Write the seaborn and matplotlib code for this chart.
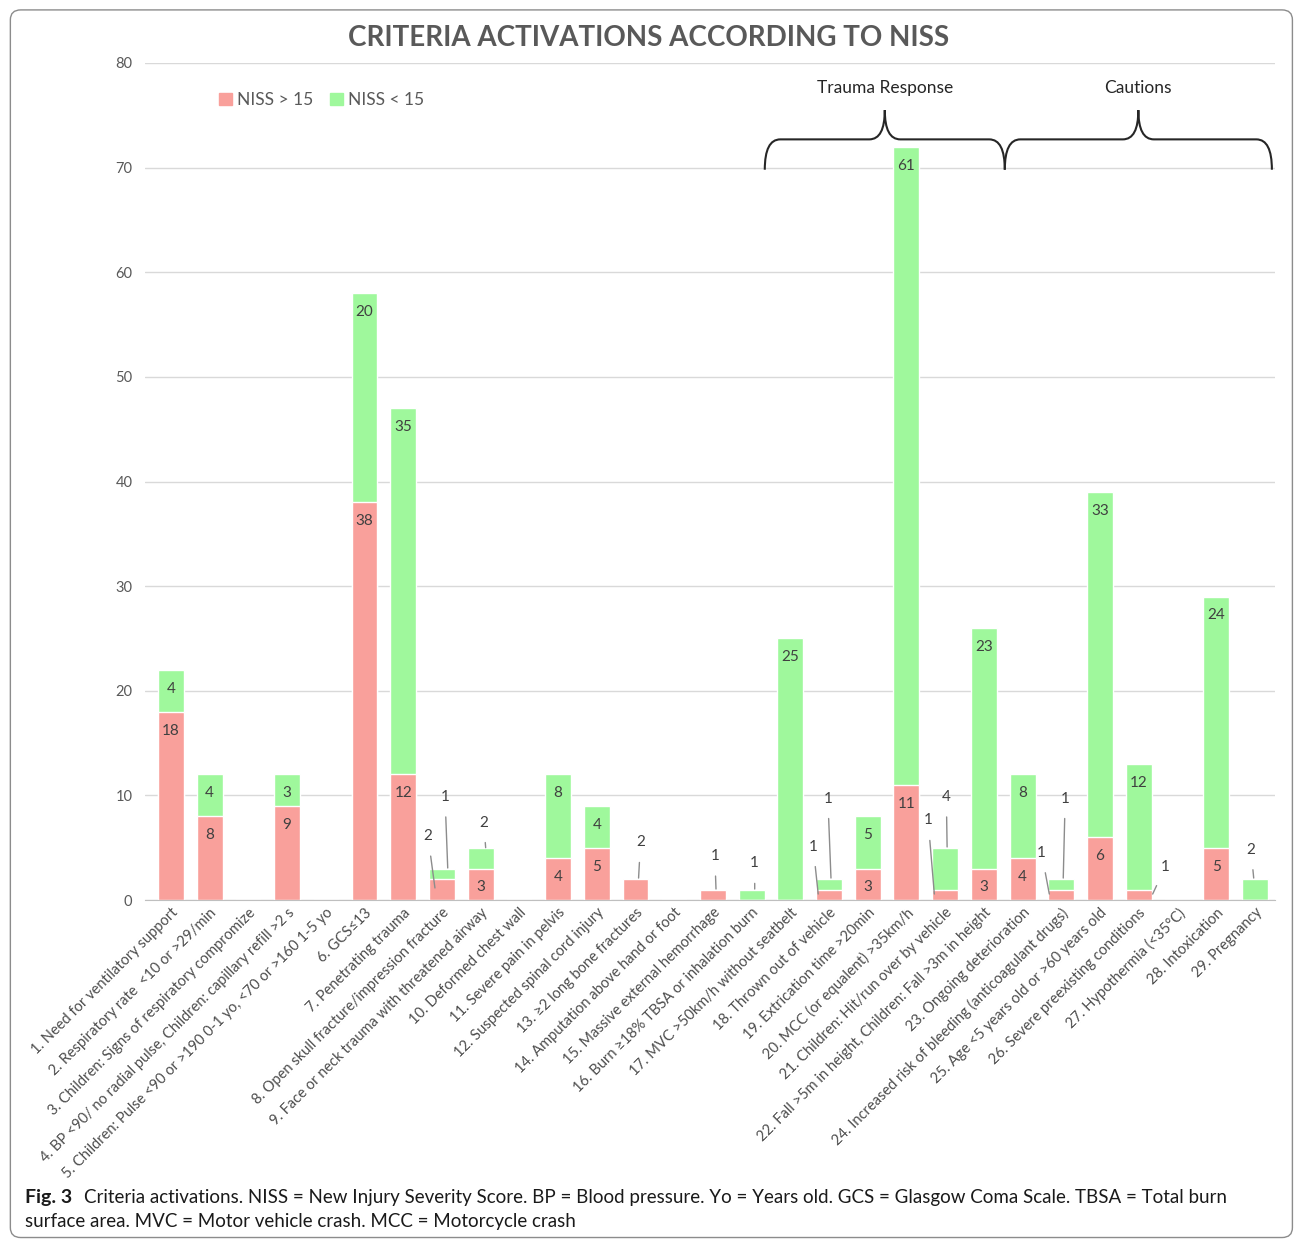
import seaborn as sns
import matplotlib.pyplot as plt
import pandas as pd
from matplotlib.path import Path
from matplotlib.patches import PathPatch, FancyBboxPatch, Patch

criteria = [
    "1. Need for ventilatory support",
    "2. Respiratory rate  <10 or >29/min",
    "3. Children: Signs of respiratory compromize",
    "4. BP <90/ no radial pulse, Children: capillary refill >2 s",
    "5. Children: Pulse <90 or >190 0-1 yo, <70 or >160 1-5 yo",
    "6. GCS\u226413",
    "7. Penetrating trauma",
    "8. Open skull fracture/impression fracture",
    "9. Face or neck trauma with threatened airway",
    "10. Deformed chest wall",
    "11. Severe pain in pelvis",
    "12. Suspected spinal cord injury",
    "13. \u22652 long bone fractures",
    "14. Amputation above hand or foot",
    "15. Massive external hemorrhage",
    "16. Burn \u226518% TBSA or inhalation burn",
    "17. MVC >50km/h without seatbelt",
    "18. Thrown out of vehicle",
    "19. Extrication time >20min",
    "20. MCC (or equalent) >35km/h",
    "21. Children: Hit/run over by vehicle",
    "22. Fall >5m in height, Children: Fall >3m in height",
    "23. Ongoing deterioration",
    "24. Increased risk of bleeding (anticoagulant drugs)",
    "25. Age <5 years old or >60 years old",
    "26. Severe preexisting conditions",
    "27. Hypothermia (<35\u00b0C)",
    "28. Intoxication",
    "29. Pregnancy",
]
niss_high = [18, 8, 0, 9, 0, 38, 12, 2, 3, 0, 4, 5, 2, 0, 1, 0, 0, 1, 3, 11, 1, 3, 4, 1, 6, 1, 0, 5, 0]
niss_low = [4, 4, 0, 3, 0, 20, 35, 1, 2, 0, 8, 4, 0, 0, 0, 1, 25, 1, 5, 61, 4, 23, 8, 1, 33, 12, 0, 24, 2]

groups = ["Trauma Response", "Cautions"]
group_spans = [(15.34, 21.54), (21.54, 28.44)]

# callouts for small segments: (bar, series) -> (label dx, label y, line end dx, line end y)
callouts = {
    (7, "high"): (-0.36, 6.1, -0.18, 1.15),
    (7, "low"): (0.08, 9.85, 0.15, 3.06),
    (8, "low"): (0.08, 7.4, 0.13, 5.0),
    (12, "high"): (0.13, 5.5, 0.08, 2.1),
    (14, "high"): (0.05, 4.2, 0.08, 1.05),
    (15, "low"): (0.08, 3.5, 0.08, 1.05),
    (17, "high"): (-0.41, 5.1, -0.28, 0.57),
    (17, "low"): (-0.03, 9.7, 0.05, 2.1),
    (20, "high"): (-0.44, 7.6, -0.28, 0.57),
    (20, "low"): (0.03, 9.85, 0.05, 5.07),
    (23, "high"): (-0.51, 4.5, -0.31, 0.57),
    (23, "low"): (0.1, 9.7, 0.05, 2.1),
    (25, "high"): (0.69, 3.2, 0.36, 0.57),
    (28, "low"): (-0.1, 4.8, -0.03, 2.1),
}

RED = "#F9A09B"
GREEN = "#9FF89C"
TXT = "#404040"
GREY = "#595959"

sns.set_style("white")
plt.rcParams['font.family'] = ['Lato', 'DejaVu Sans']

df = pd.DataFrame({"criteria": criteria, "high": niss_high, "low": niss_low})
df["total"] = df["high"] + df["low"]

fig = plt.figure(figsize=(12.95, 12.40), dpi=100)
ax = fig.add_axes([145 / 1295, 1 - 900 / 1240, 1130 / 1295, 837 / 1240])

sns.barplot(data=df, x="criteria", y="total", color=GREEN, width=0.67,
            saturation=1, ax=ax)
sns.barplot(data=df, x="criteria", y="high", color=RED, width=0.67,
            saturation=1, ax=ax)

ax.set_xlim(-0.67, 28.52)
ax.set_ylim(0, 80)
ax.set_yticks(range(0, 81, 10))
ax.yaxis.grid(True, color="#d9d9d9", lw=1)
ax.set_axisbelow(True)
for s in ["top", "right", "left"]:
    ax.spines[s].set_visible(False)
ax.spines["bottom"].set_color("#bfbfbf")
ax.tick_params(axis="y", length=0, pad=9, labelsize=10.5, labelcolor=GREY)
ax.tick_params(axis="x", length=0, pad=4)
ax.set_xlabel("")
ax.set_ylabel("")
ax.set_xticks(range(len(criteria)))
ax.set_xticklabels(criteria, rotation=45, ha="right", va="top",
                   rotation_mode="anchor", fontsize=10.5, color="#4d4d4d")

# value labels
for i in range(len(criteria)):
    for key, val, top in [("high", niss_high[i], niss_high[i]),
                          ("low", niss_low[i], niss_high[i] + niss_low[i])]:
        if val == 0:
            continue
        if (i, key) in callouts:
            ldx, ly, edx, ey = callouts[(i, key)]
            ax.annotate(str(val), xy=(i + edx, ey), xytext=(i + ldx, ly),
                        ha="center", va="center", fontsize=11, color=TXT,
                        arrowprops=dict(arrowstyle="-", color="#8c8c8c", lw=1,
                                        shrinkA=7, shrinkB=0))
        else:
            ax.text(i, top - 1.8, str(val), ha="center", va="center",
                    fontsize=11, color=TXT)


def brace(ax, x0, x1, y0=69.8, y1=72.7, y2=75.5, r=0.4):
    xm = (x0 + x1) / 2
    verts = [(x0, y0), (x0, y1), (x0 + r, y1), (xm - r, y1),
             (xm, y1), (xm, y2), (xm, y1), (xm + r, y1),
             (x1 - r, y1), (x1, y1), (x1, y0)]
    codes = [Path.MOVETO, Path.CURVE3, Path.CURVE3, Path.LINETO,
             Path.CURVE3, Path.CURVE3, Path.CURVE3, Path.CURVE3,
             Path.LINETO, Path.CURVE3, Path.CURVE3]
    ax.add_patch(PathPatch(Path(verts, codes), fill=False, ec="#262626",
                           lw=1.5, clip_on=False))


for name, (x0, x1) in zip(groups, group_spans):
    brace(ax, x0, x1)
    ax.text((x0 + x1) / 2, 77.6, name, ha="center", va="center",
            fontsize=12.5, color="#262626")

ax.legend(handles=[Patch(color=RED, label="NISS > 15"),
                   Patch(color=GREEN, label="NISS < 15")],
          loc="center left", bbox_to_anchor=(0.052, 0.956), ncol=2,
          frameon=False, fontsize=12.5, handlelength=0.7, handleheight=0.7,
          handletextpad=0.3, columnspacing=1.0, labelcolor=GREY)

fig.text(0.501, 0.969, "CRITERIA ACTIVATIONS ACCORDING TO NISS", ha="center",
         va="center", fontsize=20, fontweight="bold", color=GREY)

# caption
t = fig.text(25 / 1295, 1 - 1197 / 1240, "Fig. 3", fontsize=14,
             fontweight="bold", va="center", color="#1a1a1a")
fig.canvas.draw()
bb = t.get_window_extent()
fig.text((bb.x1 + 12) / 1295, 1 - 1197 / 1240,
         "Criteria activations. NISS = New Injury Severity Score. BP = Blood pressure. "
         "Yo = Years old. GCS = Glasgow Coma Scale. TBSA = Total burn",
         fontsize=13.5, va="center", color="#1a1a1a")
fig.text(25 / 1295, 1 - 1222 / 1240,
         "surface area. MVC = Motor vehicle crash. MCC = Motorcycle crash",
         fontsize=13.5, va="center", color="#1a1a1a")

fig.patches.append(FancyBboxPatch((0.008, 0.002), 0.99, 0.99,
                                  boxstyle="round,pad=0,rounding_size=0.008",
                                  transform=fig.transFigure, fill=False,
                                  ec="#8c8c8c", lw=1))

fig.savefig("out.png", dpi=100)
